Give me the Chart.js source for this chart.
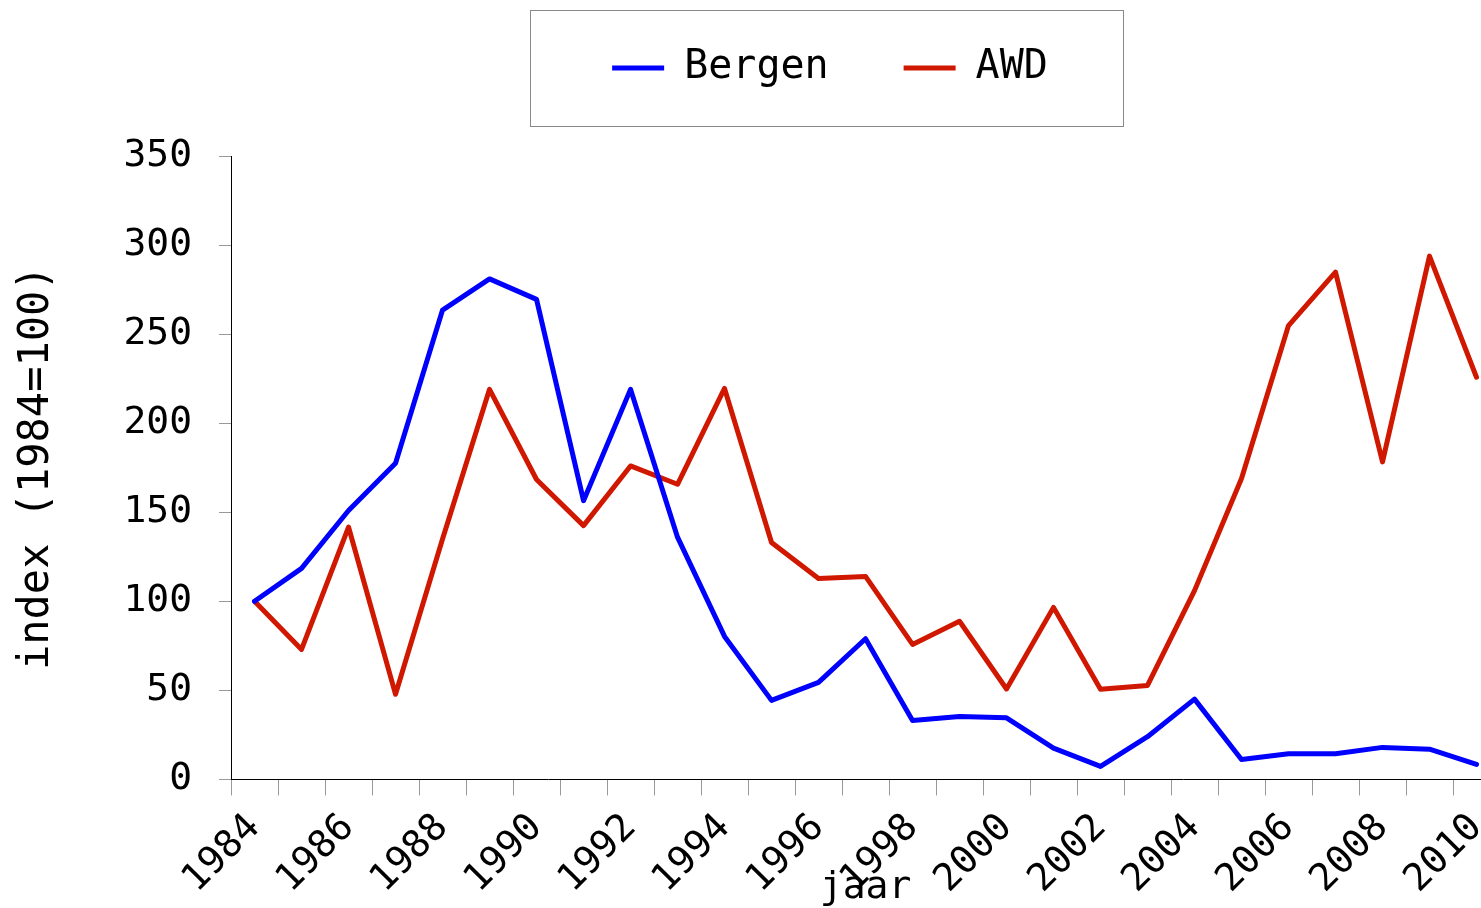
<!DOCTYPE html>
<html>
<head>
<meta charset="utf-8">
<title>Bergen / AWD index</title>
<script src="https://cdn.jsdelivr.net/npm/chart.js@4/dist/chart.umd.min.js"></script>
<style>
    html, body { margin: 0; padding: 0; background: #fff; overflow: hidden; }
    #wrap { width: 1660px; height: 908px; }
</style>
</head>
<body>
<div id="wrap"><canvas id="chart" width="1660" height="908"></canvas></div>
<script>
// chart data (index, 1984 = 100)
const years = ['1984', '1985', '1986', '1987', '1988', '1989', '1990', '1991', '1992',
    '1993', '1994', '1995', '1996', '1997', '1998', '1999', '2000', '2001', '2002',
    '2003', '2004', '2005', '2006', '2007', '2008', '2009', '2010'];
const bergen = [100, 118.5, 151, 177.5, 263.5, 281, 269.5, 156.5, 219, 136, 80.3, 44.4,
    54.5, 79, 33.1, 35.4, 34.6, 17.6, 7.3, 24, 45.1, 11.2, 14.4, 14.4, 18, 17, 8.4];
const awd = [100, 73, 141.7, 47.8, 135, 219, 168.4, 142.5, 176, 165.7, 219.5, 133,
    112.8, 114, 75.8, 88.8, 50.8, 96.6, 50.6, 52.8, 106, 169, 254.8, 284.8, 178.3, 293.8, 225.8];
const yTicks = [0, 50, 100, 150, 200, 250, 300, 350];

const FONT = 'DejaVu Sans Mono';
Chart.defaults.font.family = FONT;
Chart.defaults.color = '#000';

// draws the grey frame around the legend
const legendFrame = {
    id: 'legendFrame',
    afterDraw(chart) {
        const hb = chart.legend && chart.legend.legendHitBoxes;
        if (!hb || !hb.length) return;
        const first = hb[0];
        const last = hb[hb.length - 1];
        const x0 = Math.round(first.left - 82);
        const x1 = Math.round(last.left + last.width + 75);
        const cy = first.top + first.height / 2;
        const ctx = chart.ctx;
        ctx.save();
        ctx.strokeStyle = '#888';
        ctx.lineWidth = 1;
        ctx.strokeRect(x0 + 0.5, Math.round(cy - 58) + 0.5, x1 - x0, 116);
        ctx.restore();
    }
};

const ctx = document.getElementById('chart').getContext('2d');
new Chart(ctx, {
    type: 'line',
    data: {
        labels: years,
        datasets: [{
            label: 'Bergen',
            data: bergen,
            borderColor: '#0000ff',
            backgroundColor: '#0000ff',
            borderWidth: 5,
            borderCapStyle: 'round',
            borderJoinStyle: 'round',
            pointRadius: 0,
            pointStyle: 'line',
            tension: 0
        }, {
            label: 'AWD',
            data: awd,
            borderColor: '#d01800',
            backgroundColor: '#d01800',
            borderWidth: 5,
            borderCapStyle: 'round',
            borderJoinStyle: 'round',
            pointRadius: 0,
            pointStyle: 'line',
            tension: 0
        }]
    },
    options: {
        responsive: false,
        animation: false,
        layout: { padding: { top: -27, right: 0, bottom: 0, left: 0 } },
        plugins: {
            legend: {
                position: 'top',
                labels: {
                    usePointStyle: true,
                    pointStyle: 'line',
                    pointStyleWidth: 52,
                    padding: 75,
                    font: { size: 40 },
                    color: '#000'
                }
            },
            // empty title used as a spacer between legend and plot
            title: {
                display: true,
                text: '',
                weight: 500,
                font: { size: 10 },
                padding: { top: 46, bottom: 0 }
            },
            tooltip: { enabled: false }
        },
        scales: {
            x: {
                offset: true,
                afterFit: (axis) => { axis.paddingLeft = 0; axis.paddingRight = 0; },
                grid: {
                    offset: true,
                    drawOnChartArea: false,
                    drawTicks: true,
                    tickLength: 16,
                    color: '#999'
                },
                border: { display: true, color: '#000', width: 1 },
                ticks: {
                    autoSkip: false,
                    maxRotation: 45,
                    minRotation: 45,
                    padding: 10,
                    font: { size: 38 },
                    color: '#000',
                    callback: (v, i) => (i % 2 === 0 ? years[i] : '')
                },
                title: {
                    display: true,
                    text: 'jaar',
                    font: { size: 38 },
                    color: '#000',
                    padding: { top: -47, bottom: -3 }
                }
            },
            y: {
                min: 0,
                max: 350,
                afterBuildTicks: (axis) => { axis.ticks = yTicks.map(v => ({ value: v })); },
                grid: {
                    drawOnChartArea: false,
                    drawTicks: true,
                    tickLength: 12,
                    color: '#999'
                },
                border: { display: true, color: '#000', width: 1 },
                ticks: {
                    padding: 27,
                    font: { size: 38 },
                    color: '#000'
                },
                title: {
                    display: true,
                    text: 'index (1984=100)',
                    font: { size: 42 },
                    color: '#000',
                    padding: { top: 12, bottom: 34 }
                }
            },
            // empty right-hand axis: keeps the plot from running to the canvas edge
            yr: {
                type: 'linear',
                position: 'right',
                min: 0,
                max: 350,
                grid: { display: false },
                border: { display: false },
                ticks: { display: false },
                afterFit: (axis) => { axis.width = 160; }
            }
        }
    },
    plugins: [legendFrame]
});
</script>
</body>
</html>
